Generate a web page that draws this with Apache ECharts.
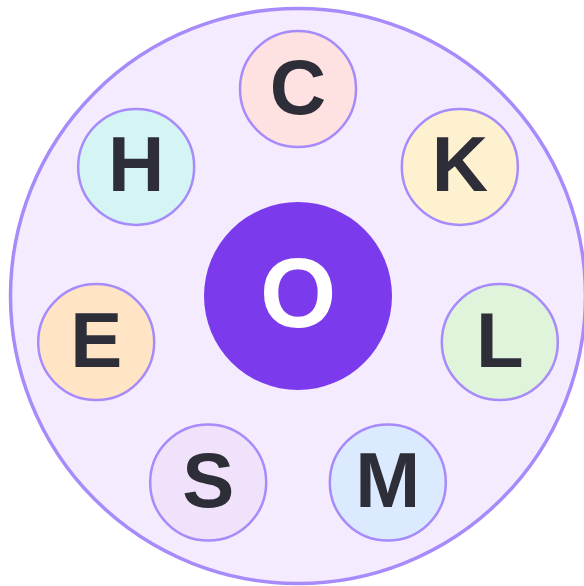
<!DOCTYPE html>
<html>
<head>
<meta charset="utf-8">
<script src="https://cdn.jsdelivr.net/npm/echarts@6/dist/echarts.min.js"></script>
<style>html,body{margin:0;padding:0;background:#fff}#c{width:584px;height:586px}</style>
</head>
<body>
<div id="c"></div>
<script>
// Data
const centerLetter = 'O';
const ringLetters = ['C', 'K', 'L', 'M', 'S', 'E', 'H'];
const ringFills = ['#fee2e2', '#fef1d0', '#e0f4dc', '#dbeafe', '#f1e2fc', '#ffe4c6', '#d4f5f4'];

const chart = echarts.init(document.getElementById('c'), null, {renderer: 'canvas'});
const n = ringLetters.length;
const labelFont = 'Liberation Sans, Arial, sans-serif';

chart.setOption({
  backgroundColor: '#ffffff',
  animation: false,
  polar: { center: [298, 296], radius: 207 },
  angleAxis: {
    type: 'category',
    data: ringLetters,
    startAngle: 90 + 180 / n,
    clockwise: true,
    show: false
  },
  radiusAxis: { type: 'value', min: 0, max: 1, show: false },
  series: [
    {
      type: 'scatter',
      coordinateSystem: 'polar',
      silent: true,
      z: 1,
      symbol: 'circle',
      symbolSize: 575,
      itemStyle: { color: '#f4ebfe', borderColor: '#a78bfa', borderWidth: 3.5, opacity: 1 },
      data: [[0, ringLetters[0]]]
    },
    {
      type: 'scatter',
      coordinateSystem: 'polar',
      z: 2,
      symbol: 'circle',
      symbolSize: 116,
      itemStyle: { borderColor: '#a78bfa', borderWidth: 2.5, opacity: 1 },
      label: {
        show: true,
        position: 'inside',
        formatter: p => p.name,
        fontSize: 78,
        fontWeight: 'bold',
        fontFamily: labelFont,
        color: '#2d2e37',
        offset: [0, 3]
      },
      data: ringLetters.map((l, i) => ({
        name: l,
        value: [1, l],
        itemStyle: { color: ringFills[i] }
      }))
    },
    {
      type: 'scatter',
      coordinateSystem: 'polar',
      z: 3,
      symbol: 'circle',
      symbolSize: 188,
      itemStyle: { color: '#7c3aed', opacity: 1 },
      label: {
        show: true,
        position: 'inside',
        formatter: p => p.name,
        fontSize: 98,
        fontWeight: 'bold',
        fontFamily: labelFont,
        color: '#ffffff',
        offset: [0, 4]
      },
      data: [{ name: centerLetter, value: [0, ringLetters[0]] }]
    }
  ]
});
</script>
</body>
</html>
